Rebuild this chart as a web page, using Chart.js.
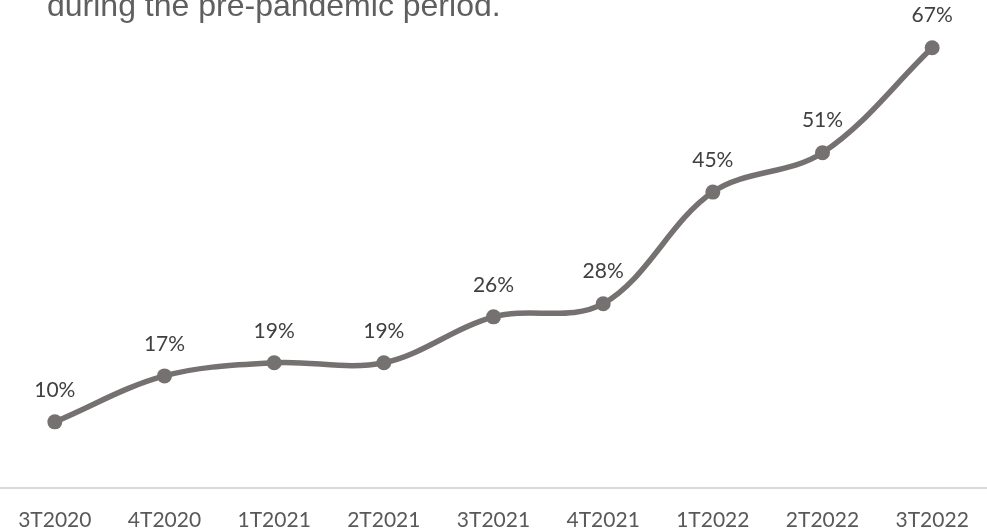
<!DOCTYPE html>
<html>
<head>
<meta charset="utf-8">
<script src="https://cdn.jsdelivr.net/npm/chart.js@4/dist/chart.umd.min.js"></script>
<style>
  html, body { margin: 0; padding: 0; background: #ffffff; overflow: hidden; }
  #wrap { position: relative; width: 987px; height: 531px; }
</style>
</head>
<body>
<div id="wrap"><canvas id="chart" width="987" height="531"></canvas></div>
<script>
// Quarterly share (%)
const quarters = ['3T2020', '4T2020', '1T2021', '2T2021', '3T2021', '4T2021', '1T2022', '2T2022', '3T2022'];
const shareValues = [10, 17, 19, 19, 26, 28, 45, 51, 67];
const headline = 'during the pre-pandemic period.';

const lineColor = '#767171';
const textColor = '#404040';

// Value labels above each point, and the trailing headline line at the top
const annotate = {
  id: 'annotate',
  afterDatasetsDraw(chart) {
    const ctx = chart.ctx;
    const meta = chart.getDatasetMeta(0);
    ctx.save();
    ctx.font = '21px Lato, "Open Sans", sans-serif';
    ctx.fillStyle = textColor;
    ctx.textAlign = 'center';
    ctx.textBaseline = 'middle';
    meta.data.forEach((pt, i) => {
      ctx.fillText(shareValues[i] + '%', pt.x, pt.y - 32);
    });
    ctx.font = '32px "Liberation Sans", Arial, sans-serif';
    ctx.fillStyle = '#5f5f5f';
    ctx.textAlign = 'left';
    ctx.textBaseline = 'alphabetic';
    ctx.fillText(headline, 47, 16);
    ctx.restore();
  }
};

new Chart(document.getElementById('chart'), {
  type: 'line',
  data: {
    labels: quarters,
    datasets: [{
      data: shareValues,
      borderColor: lineColor,
      backgroundColor: lineColor,
      borderWidth: 5.5,
      tension: 0.35,
      pointRadius: 7.5,
      pointBorderWidth: 0,
      pointBackgroundColor: lineColor,
      fill: false
    }]
  },
  options: {
    responsive: false,
    animation: false,
    layout: { autoPadding: false, padding: { top: 28, left: 0, right: 0, bottom: 0 } },
    plugins: { legend: { display: false }, tooltip: { enabled: false } },
    scales: {
      x: {
        offset: true,
        grid: { display: false, drawTicks: false },
        border: { display: true, color: '#d9d9d9', width: 2 },
        ticks: {
          padding: 20,
          color: '#595959',
          font: { family: 'Lato, "Open Sans", sans-serif', size: 21 }
        },
        afterFit(scale) {
          scale.height = 43.5;
          scale.paddingLeft = 0;
          scale.paddingRight = 0;
        }
      },
      y: {
        display: false,
        min: 0,
        max: 70
      }
    }
  },
  plugins: [annotate]
});
</script>
</body>
</html>
